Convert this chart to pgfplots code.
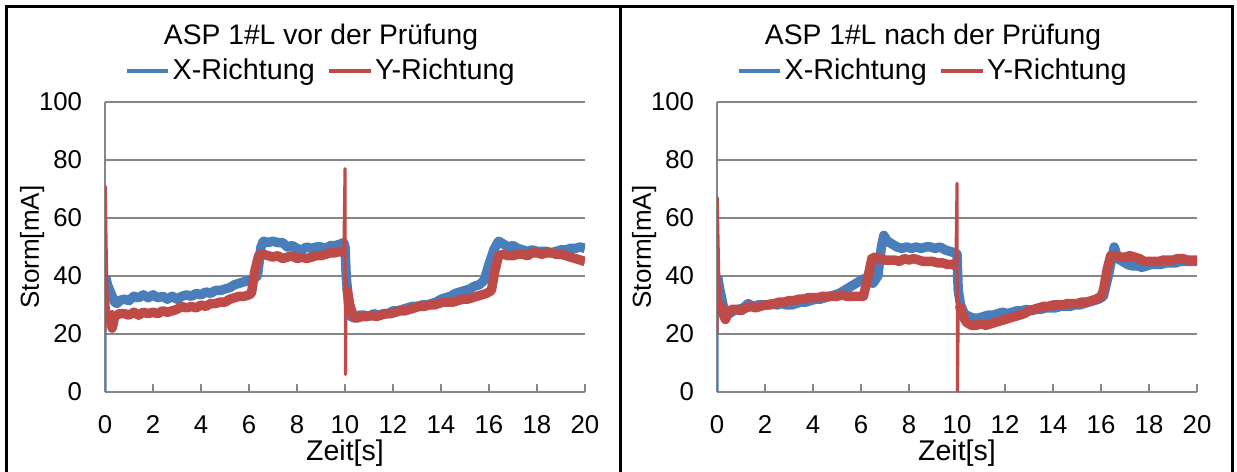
\documentclass[border=0pt]{standalone}
\usepackage{fontspec}
\setmainfont{Liberation Sans}
\usepackage{pgfplots}
\pgfplotsset{compat=1.18}

\definecolor{xblue}{RGB}{74,126,187}
\definecolor{yred}{RGB}{190,75,72}
\definecolor{axgray}{RGB}{134,134,134}

\pgfplotsset{
  panel/.style={
    width=192pt, height=116pt, scale only axis,
    xmin=0, xmax=20, ymin=0, ymax=100,
    xtick={0,2,...,20}, ytick={0,20,...,100},
    axis x line=bottom, axis y line=left,
    axis line style={-, color=axgray, line width=0.9pt},
    tick align=inside, major tick length=3pt,
    tick style={color=axgray, line width=0.9pt},
    ymajorgrids, grid style={color=axgray, line width=0.9pt},
    /pgf/number format/assume math mode=true,
    tick label style={font=\fontsize{10.3}{12}\selectfont},
    xticklabel style={anchor=base, yshift=-16.5pt},
    yticklabel style={anchor=east, inner sep=0pt, xshift=-9pt},
    xlabel={Zeit[s]}, ylabel={Storm[mA]},
    x label style={at={(axis description cs:0.5,-0.21)}, anchor=center,
      font=\fontsize{11.4}{13}\selectfont},
    y label style={at={(axis description cs:-0.152,0.5)}, anchor=center,
      font=\fontsize{10.4}{12}\selectfont},
    title style={at={(axis description cs:0.45,1.172)}, anchor=center,
      font=\fontsize{11.3}{13}\selectfont},
    legend columns=2,
    legend style={at={(axis description cs:0.45,1.107)}, anchor=center,
      draw=none, fill=none, font=\fontsize{11.5}{13}\selectfont,
      /tikz/every even column/.append style={column sep=4pt},
      nodes={inner sep=1pt}},
    legend image code/.code={\draw[#1, line width=1.6pt] (0pt,0pt) -- (16.5pt,0pt);},
  },
  band/.style={line width=3.8pt, line join=round},
  spike/.style={line width=1.2pt, line join=round, forget plot},
}

\begin{document}
\begin{tikzpicture}
\useasboundingbox (0,0) rectangle (494.8pt,188.8pt);
\draw[line width=1.2pt] (2.4pt,-5pt) -- (2.4pt,186pt) -- (492.8pt,186pt) -- (492.8pt,-5pt);
\draw[line width=1.2pt] (248pt,-5pt) -- (248pt,186pt);

% ---- vor der Pruefung ----
\begin{axis}[panel, at={(42pt,32pt)}, anchor=south west,
    title={ASP 1\#L vor der Prüfung}]
\addplot[spike, xblue] coordinates {(0,0) (0,20) (0.02,40)};
\addplot[band, xblue] coordinates {
(0.02,40) (0.1,37) (0.2,35) (0.3,33) (0.4,31) (0.5,30.5) (0.6,31.5) (0.8,32)
(1.0,31.5) (1.2,33) (1.4,32.5) (1.6,33.5) (1.8,32.5) (2.0,33.5) (2.2,32.5)
(2.4,33) (2.6,32) (2.8,33) (3.0,32) (3.2,33) (3.4,33.5) (3.6,33) (3.8,34)
(4.0,33.5) (4.2,34.5) (4.4,34) (4.6,35) (4.8,35) (5.0,35.5) (5.2,36) (5.4,37)
(5.6,37.5) (5.8,38) (6.0,38.5) (6.2,39) (6.35,40) (6.5,50) (6.6,52) (6.8,51.5)
(7.0,52) (7.2,51.5) (7.4,51.5) (7.6,50) (7.8,50.5) (8.0,49.5) (8.2,49) (8.4,50)
(8.6,49.5) (8.8,50) (9.0,50) (9.2,49.5) (9.4,50.5) (9.6,50.5) (9.8,51)
(9.95,51.5) (10.0,50) (10.05,40) (10.15,30) (10.25,26) (10.4,25.5) (10.6,26.5)
(10.8,26.5) (11.0,26) (11.2,27) (11.4,26.5) (11.6,27) (11.8,27) (12.0,28)
(12.2,28) (12.4,28.5) (12.6,29) (12.8,29.5) (13.0,29.5) (13.2,30) (13.4,30)
(13.6,30.5) (13.8,31) (14.0,32) (14.2,32.5) (14.4,33) (14.6,34) (14.8,34.5)
(15.0,35) (15.2,35.5) (15.4,36.5) (15.6,37) (15.8,38.5) (16.0,44) (16.2,49)
(16.4,52) (16.6,51) (16.8,50) (17.0,50.5) (17.2,49.5) (17.4,49) (17.6,48.5)
(17.8,49) (18.0,48.5) (18.2,48.5) (18.4,48.5) (18.6,48) (18.8,48.5) (19.0,49)
(19.2,49) (19.4,49.5) (19.6,49.5) (19.8,50) (20.0,49.5)};
\addlegendentry{X-Richtung}
\addplot[band, yred] coordinates {
(0.15,28) (0.25,24) (0.3,22) (0.4,26) (0.6,27) (0.8,27) (1.0,26.5) (1.2,27.5)
(1.4,26.5) (1.6,27.5) (1.8,27) (2.0,27.5) (2.2,27) (2.4,28) (2.6,27.5) (2.8,28)
(3.0,28.5) (3.2,29.5) (3.4,29) (3.6,29.5) (3.8,29) (4.0,30) (4.2,29.5)
(4.4,30.5) (4.6,30.5) (4.8,31) (5.0,31) (5.2,32) (5.4,32.5) (5.6,33) (5.8,33)
(6.0,33.5) (6.1,34) (6.25,42) (6.4,47) (6.6,47.5) (6.8,47) (7.0,46.5) (7.2,47)
(7.4,46) (7.6,46.5) (7.8,47) (8.0,46) (8.2,46.5) (8.4,46) (8.6,46.5) (8.8,47)
(9.0,47) (9.2,47.5) (9.4,48) (9.6,48) (9.8,48.5) (9.95,48)};
\addlegendentry{Y-Richtung}
\addplot[band, yred, forget plot] coordinates {
(10.08,36) (10.2,30) (10.35,26) (10.5,25.5) (10.7,26) (10.9,26) (11.1,26.5)
(11.3,26) (11.5,26.5) (11.7,27) (11.9,27) (12.1,27.5) (12.3,28) (12.5,28)
(12.7,28.5) (12.9,29) (13.1,29.5) (13.3,29.5) (13.5,30) (13.7,30) (13.9,30.5)
(14.1,31) (14.3,31) (14.5,31) (14.7,31.5) (14.9,32) (15.1,32) (15.3,32.5)
(15.5,33) (15.7,33.5) (15.9,34) (16.1,35) (16.25,42) (16.4,47) (16.6,47.5)
(16.8,47) (17.0,47) (17.2,47.5) (17.4,47.5) (17.6,47) (17.8,48) (18.0,48)
(18.2,47.5) (18.4,48) (18.6,48) (18.8,47.5) (19.0,47.5) (19.2,47) (19.4,46.5)
(19.6,46) (19.8,45.5) (20.0,45)};
\addplot[spike, yred] coordinates {(0,21) (0.01,71) (0.08,35) (0.15,28)};
\addplot[spike, yred] coordinates {(9.95,48) (10.0,77) (10.02,6) (10.05,40) (10.08,36)};
\end{axis}

% ---- nach der Pruefung ----
\begin{axis}[panel, at={(286.8pt,32pt)}, anchor=south west,
    title={ASP 1\#L nach der Prüfung}]
\addplot[spike, xblue] coordinates {(0,0) (0,20) (0.02,40)};
\addplot[band, xblue] coordinates {
(0.02,40) (0.1,36) (0.2,32) (0.3,28) (0.4,26.5) (0.5,27) (0.7,28) (0.9,28.5)
(1.1,29) (1.3,30.5) (1.5,29.5) (1.7,30) (1.9,30) (2.1,30) (2.3,30.5) (2.5,30)
(2.7,30.5) (2.9,30) (3.1,30) (3.3,30.5) (3.5,31) (3.7,31) (3.9,31.5) (4.1,32)
(4.3,32) (4.5,32.5) (4.7,33) (4.9,33.5) (5.1,34) (5.3,35) (5.5,36) (5.7,37)
(5.9,38) (6.1,39) (6.3,38) (6.5,37.5) (6.7,40) (6.85,50) (6.95,54) (7.1,52)
(7.3,51) (7.5,50) (7.7,49.5) (7.9,50) (8.1,49.5) (8.3,50) (8.5,49.5) (8.7,50)
(8.9,50) (9.1,49.5) (9.3,50) (9.5,49) (9.7,48.5) (9.9,48) (10.0,47.5)
(10.05,35) (10.15,30) (10.3,27) (10.5,26) (10.7,25.5) (10.9,25.5) (11.1,26)
(11.3,26.5) (11.5,26.5) (11.7,27) (11.9,27.5) (12.1,27) (12.3,27.5) (12.5,28)
(12.7,28) (12.9,28.5) (13.1,28) (13.3,28.5) (13.5,28.5) (13.7,29) (13.9,29)
(14.1,29) (14.3,29.5) (14.5,29.5) (14.7,29.5) (14.9,30) (15.1,30) (15.3,30.5)
(15.5,31) (15.7,31.5) (15.9,32) (16.1,33) (16.3,40) (16.45,46) (16.55,50)
(16.7,46) (16.9,45) (17.1,44) (17.3,43.5) (17.5,43.5) (17.7,43) (17.9,43.5)
(18.1,44) (18.3,44) (18.5,44) (18.7,44.5) (18.9,44.5) (19.1,44.5) (19.3,45)
(19.5,45) (19.7,45) (19.9,45) (20.0,45)};
\addlegendentry{X-Richtung}
\addplot[band, yred] coordinates {
(0.15,31) (0.25,27) (0.35,25) (0.45,27) (0.6,28.5) (0.8,28.5) (1.0,28)
(1.2,29) (1.4,29.5) (1.6,29) (1.8,29.5) (2.0,30) (2.2,30) (2.4,30.5) (2.6,31)
(2.8,31) (3.0,31.5) (3.2,31.5) (3.4,32) (3.6,32) (3.8,32.5) (4.0,32.5)
(4.2,32.5) (4.4,33) (4.6,33) (4.8,33) (5.0,33) (5.2,33.5) (5.4,33) (5.6,33)
(5.8,33) (6.0,33) (6.1,33) (6.3,40) (6.45,46) (6.6,46.5) (6.8,46) (7.0,45.5)
(7.2,45.5) (7.4,45.5) (7.6,45) (7.8,46) (8.0,45.5) (8.2,46) (8.4,45.5)
(8.6,45) (8.8,45) (9.0,45) (9.2,44.5) (9.4,44.5) (9.6,44) (9.8,44) (9.95,43.5)};
\addlegendentry{Y-Richtung}
\addplot[band, yred, forget plot] coordinates {
(10.1,30) (10.25,26) (10.4,24) (10.6,23) (10.8,23) (11.0,23.5) (11.2,23)
(11.4,23.5) (11.6,24) (11.8,24.5) (12.0,25) (12.2,25.5) (12.4,26) (12.6,26.5)
(12.8,27) (13.0,28) (13.2,28.5) (13.4,29) (13.6,29.5) (13.8,29.5) (14.0,30)
(14.2,30) (14.4,30) (14.6,30.5) (14.8,30.5) (15.0,30.5) (15.2,31) (15.4,31)
(15.6,31.5) (15.8,32) (16.0,33) (16.1,35) (16.25,42) (16.4,47) (16.6,47)
(16.8,46.5) (17.0,46.5) (17.2,47) (17.4,46.5) (17.6,46) (17.8,45) (18.0,45)
(18.2,45) (18.4,45) (18.6,45.5) (18.8,45.5) (19.0,45.5) (19.2,46) (19.4,46)
(19.6,45.5) (19.8,45.5) (20.0,45.5)};
\addplot[spike, yred] coordinates {(0,20) (0.01,67) (0.08,38) (0.15,31)};
\addplot[spike, yred] coordinates {(9.95,43.5) (10.0,72) (10.02,0) (10.06,32) (10.1,30)};
\end{axis}
\end{tikzpicture}
\end{document}
